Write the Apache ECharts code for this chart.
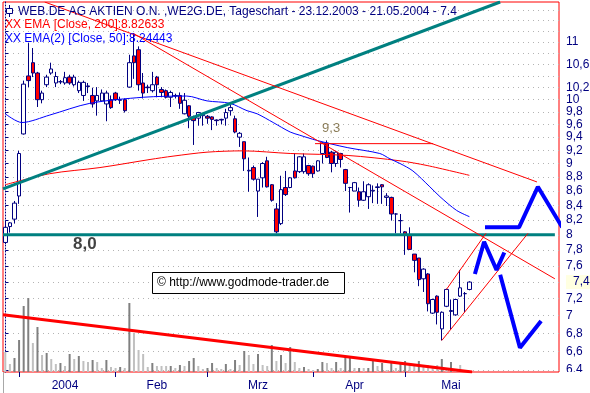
<!DOCTYPE html>
<html><head><meta charset="utf-8">
<script src="https://cdn.jsdelivr.net/npm/echarts@6/dist/echarts.min.js"></script>
<style>html,body{margin:0;padding:0;background:#fff}#c{width:590px;height:393px}</style>
</head><body><div id="c"></div>
<script>
// ---------- data ----------
const decDays = [23,29,30];
const janDays = [2,5,6,7,8,9,12,13,14,15,16,19,20,21,22,23,26,27,28,29,30];
const febDays = [2,3,4,5,6,9,10,11,12,13,16,17,18,19,20,23,24,25,26,27];
const marDays = [1,2,3,4,5,8,9,10,11,12,15,16,17,18,19,22,23,24,25,26,29,30,31];
const aprDays = [1,2,5,6,7,8,13,14,15,16,19,20,21,22,23,26,27,28,29,30];
const mayDays = [3,4,5,6,7,10,11,12,13,14,17,18,19,20,21];
const padDays = 19;
const monthNames = ['2004','Feb','Mrz','Apr','Mai'];
const monthLabelIdx = [13,33,55,76,97];
const monthStartIdx = [3,24,44,67,87];

const priceTicks = [6.4,6.6,6.8,7,7.2,7.4,7.6,7.8,8,8.2,8.4,8.6,8.8,9,9.2,9.4,9.6,9.8,10,10.2,10.4,10.6,10.8,11,11.2,11.4,11.6];
const priceLabels = [11,10.6,10.2,10,9.8,9.6,9.4,9.2,9,8.8,8.6,8.4,8.2,8,7.8,7.6,7.4,7.2,7,6.8,6.6,6.4];

// [open, high, low, close]
const ohlc = [
[7.90,8.19,7.88,8.10],[8.11,8.17,8.03,8.16],[8.21,8.46,8.15,8.43],[8.53,9.19,8.42,9.15],[9.45,10.32,9.44,10.26],
[10.40,10.98,10.21,10.32],[10.63,10.89,10.38,10.45],[10.45,10.47,9.88,10.00],[10.00,10.15,9.94,10.11],[10.25,10.42,10.21,10.38],
[10.45,10.63,10.42,10.52],[10.28,10.47,10.21,10.39],[10.30,10.33,10.26,10.30],[10.28,10.47,10.25,10.37],[10.38,10.42,10.25,10.28],
[10.25,10.42,10.22,10.38],[10.15,10.32,10.11,10.29],[10.07,10.32,9.98,10.29],[10.23,10.28,10.11,10.22],[10.07,10.20,9.87,9.93],
[9.98,10.21,9.74,10.07],[9.98,10.17,9.97,10.11],[9.93,10.15,9.65,10.11],[10.00,10.07,9.85,9.87],[10.11,10.13,9.98,10.00],
[9.99,10.05,9.93,10.00],[10.00,10.02,9.79,9.82],[10.21,10.77,10.20,10.63],[10.75,11.16,10.35,10.63],[10.86,10.92,10.15,10.25],
[10.28,10.45,10.02,10.11],[10.21,10.25,10.11,10.20],[10.15,10.47,10.12,10.25],[10.38,10.40,10.04,10.25],[10.17,10.21,10.04,10.12],
[10.15,10.17,10.02,10.04],[10.04,10.15,9.88,10.12],[10.06,10.10,10.02,10.07],[10.07,10.12,9.85,9.94],[9.77,10.11,9.76,9.99],
[9.90,9.91,9.54,9.73],[9.72,9.74,9.28,9.66],[9.70,9.80,9.58,9.79],[9.74,9.78,9.58,9.77],[9.73,9.75,9.61,9.70],
[9.72,9.73,9.51,9.68],[9.67,9.68,9.58,9.66],[9.68,9.69,9.60,9.67],[9.70,9.85,9.58,9.79],[9.82,9.92,9.74,9.87],
[9.69,9.74,9.46,9.48],[9.40,9.48,9.25,9.46],[9.33,9.33,8.89,9.07],[8.89,9.09,8.59,8.90],[8.94,8.97,8.75,8.77],
[8.60,8.77,8.24,8.77],[8.79,9.02,8.65,9.00],[9.04,9.10,8.65,8.66],[8.69,8.70,8.45,8.47],[8.35,8.43,8.02,8.04],
[8.15,8.82,8.13,8.62],[8.65,8.89,8.53,8.55],[8.65,8.80,8.64,8.79],[8.89,9.15,8.78,8.79],[8.88,9.11,8.86,9.10],
[8.88,9.15,8.85,9.10],[8.97,8.98,8.82,8.85],[8.96,8.97,8.79,8.85],[8.89,9.05,8.88,9.04],[9.15,9.32,9.00,9.31],
[9.31,9.35,9.08,9.09],[9.17,9.19,8.87,9.00],[9.00,9.19,8.95,9.17],[9.15,9.16,8.94,9.06],[8.91,8.92,8.60,8.71],
[8.65,8.66,8.30,8.65],[8.60,8.73,8.60,8.72],[8.59,8.65,8.38,8.47],[8.47,8.74,8.46,8.59],[8.52,8.71,8.35,8.69],
[8.60,8.68,8.43,8.61],[8.65,8.71,8.42,8.66],[8.69,8.70,8.42,8.66],[8.51,8.57,8.39,8.53],[8.51,8.52,8.19,8.28],
[8.28,8.29,8.02,8.28],[8.19,8.28,8.02,8.19],[8.04,8.05,7.74,8.00],[8.00,8.10,7.81,7.81],[7.75,7.75,7.52,7.67],
[7.70,7.70,7.35,7.43],[7.44,7.57,7.28,7.56],[7.50,7.51,7.05,7.14],[7.03,7.20,7.02,7.19],[7.23,7.24,6.90,7.04],
[6.85,7.05,6.72,7.04],[7.11,7.32,7.10,7.31],[7.05,7.19,6.84,7.06],[7.01,7.20,7.00,7.19],[7.23,7.55,7.22,7.33],
[7.26,7.28,7.04,7.26],[7.31,7.41,7.30,7.40]
];

// volume (thousand shares) and shade flag (1 = dark, 0 = light)
const volume = [200,80,140,320,660,740,290,450,170,190,130,80,90,60,180,130,160,110,100,120,
100,40,120,50,40,50,40,690,390,220,180,50,90,60,60,60,60,40,70,60,
110,140,60,30,40,90,40,30,80,30,120,70,210,170,80,180,70,60,270,110,
170,90,250,100,40,50,30,20,30,100,90,40,100,40,150,150,40,40,40,40,
120,60,90,20,90,40,80,110,90,60,110,60,70,60,70,130,40,100,20,70,20,10];
const volShade = [0,0,1,1,1,1,0,1,0,1,0,0,1,0,1,0,1,0,0,1,
0,0,1,0,0,1,0,1,0,0,0,0,1,0,0,0,1,0,1,0,
1,1,0,0,1,1,0,0,1,0,1,0,1,0,0,1,0,0,1,0,
1,0,1,0,0,1,0,0,1,1,0,0,1,0,1,1,0,1,0,1,
1,0,1,0,1,0,1,1,0,0,1,0,0,0,0,1,0,1,0,0,0,0];

// moving averages: [x index, price]
const ema200 = [[0,8.69],[9.7,8.85],[20.6,8.94],[31.5,9.06],[36.5,9.11],[43.9,9.17],[51.7,9.19],[62,9.15],[74.6,9.12],[85.9,9.04],[91.8,8.97],[101,8.826]];
const ema50 = [[0,9.77],[3.6,9.63],[9.7,9.75],[18.4,9.94],[30,10.04],[39.5,10.06],[43.9,9.98],[48.9,9.94],[52.6,9.82],[54.8,9.77],[58.3,9.63],[62,9.48],[64.1,9.43],[67.8,9.35],[74.4,9.24],[81.5,9.15],[83.7,9.07],[85.9,9.00],[88.7,8.89],[92.4,8.66],[94.6,8.52],[98.2,8.33],[101,8.244]];

// drawn trendlines / annotations: [x index, price]
const tealUp = [[-0.5,8.63],[107.7,11.75]];
const tealFlat = [[-0.5,8.0],[119.6,8.0]];
const redUpper = [[8.57,11.75],[115.7,8.73]];
const redSteep = [[27.8,11.16],[119.6,7.44]];
const redFlat93 = [[67.4,9.3],[93.1,9.3]];
const chanA = [[96,7.31],[104.6,8.02]];
const chanB = [[95,6.72],[113.75,8.02]];
const zigTop = [[104.4,8.10],[111.8,8.10],[115.9,8.66],[121.2,8.10]];
const zigLow1 = [[102.2,7.50],[104.2,7.91],[106.9,7.55],[108.6,7.77]];
const zigLow2 = [[107.7,7.49],[112.0,6.64],[116.6,6.94]];
const volTrend = [[-0.5,573],[101.6,0]];
const label80 = [17.3,7.87];
const label93 = [70.9,9.54];

// ---------- build ----------
const cats = [];
function addMonth(days, m, y){ days.forEach(d => cats.push(String(d).padStart(2,'0')+'.'+m+'.'+y)); }
addMonth(decDays,'12','2003'); addMonth(janDays,'01','2004'); addMonth(febDays,'02','2004');
addMonth(marDays,'03','2004'); addMonth(aprDays,'04','2004'); addMonth(mayDays,'05','2004');
for (let i = 0; i < padDays; i++) cats.push('p' + i);
const N = cats.length;

const L = Math.log;
const navy = '#000080';
const FONT = 'Liberation Sans, Arial, sans-serif';
const fmt = v => String(Math.round(Math.exp(v) * 10) / 10).replace('.', ',');
const lp = pts => pts.map(p => [p[0], L(p[1])]);

function line(pts, color, width, extra) {
  return Object.assign({
    type: 'line', xAxisIndex: 1, yAxisIndex: 0, data: lp(pts), symbol: 'none', silent: true,
    lineStyle: { color: color, width: width }, z: 5, animation: false
  }, extra || {});
}

const chart = echarts.init(document.getElementById('c'));
chart.setOption({
  animation: false,
  backgroundColor: '#ffffff',
  grid: { left: 3, top: 2, right: 31, bottom: 21, outerBoundsMode: 'none', containLabel: false,
    show: true, borderColor: '#ff0000', borderWidth: 1, backgroundColor: 'transparent' },
  xAxis: [
    { type: 'category', data: cats, boundaryGap: true,
      axisLine: { show: false },
      axisTick: { show: true, alignWithLabel: true, length: 5, interval: (i) => monthStartIdx.indexOf(i) >= 0, lineStyle: { color: navy } },
      axisLabel: { interval: (i) => monthLabelIdx.indexOf(i) >= 0, formatter: (v, i) => monthNames[monthLabelIdx.indexOf(i)] || '',
        color: navy, fontSize: 12, fontFamily: FONT, margin: 8 },
      splitLine: { show: false } },
    { type: 'value', min: -0.5, max: N - 0.5, show: false }
  ],
  yAxis: [
    { type: 'value', position: 'right', offset: 3, min: L(6.379), max: L(11.75),
      axisLine: { show: true, lineStyle: { color: navy, type: [1, 2] } },
      axisTick: { show: true, length: 3, customValues: priceTicks.map(L), lineStyle: { color: navy } },
      axisLabel: { customValues: priceLabels.map(L), color: navy, fontSize: 12, fontFamily: FONT, margin: 4,
        formatter: v => { const s = fmt(v); return Math.abs(Math.exp(v) - 7.4) < 0.01 ? '{hl|' + s + '}' : s; },
        rich: { hl: { backgroundColor: '#ffffe1', color: navy, fontSize: 12, fontFamily: FONT, padding: [1, 8, 1, 7] } } },
      splitLine: { show: true, lineStyle: { color: '#b4b4b4', type: [1, 4], width: 1 } } },
    { type: 'value', min: 0, max: 3700, show: false, splitLine: { show: false } }
  ],
  series: [
    { type: 'bar', xAxisIndex: 0, yAxisIndex: 1, barWidth: 2, silent: true, z: 1,
      data: volume.map((v, i) => ({ value: v, itemStyle: { color: volShade[i] ? '#808080' : '#c0c0c0' } })) },
    { type: 'line', xAxisIndex: 1, yAxisIndex: 1, data: volTrend, symbol: 'none', silent: true,
      lineStyle: { color: '#ff0000', width: 3 }, z: 2 },
    { type: 'candlestick', xAxisIndex: 0, yAxisIndex: 0, barWidth: 4, silent: true, z: 3,
      itemStyle: { color: '#ffffff', color0: '#ff0000', borderColor: navy, borderColor0: navy, borderWidth: 1 },
      data: ohlc.map(r => [L(r[0]), L(r[3]), L(r[2]), L(r[1])]) },
    line(ema200, '#ff0000', 1, { smooth: 0.3 }),
    line(ema50, '#0000ff', 1, { smooth: 0.3 }),
    line(tealUp, '#008080', 3),
    line(tealFlat, '#008080', 3),
    line(redUpper, '#ff0000', 1),
    line(redSteep, '#ff0000', 1),
    line(redFlat93, '#ff0000', 1),
    line(chanA, '#ff0000', 1),
    line(chanB, '#ff0000', 1),
    line(zigTop, '#0000ff', 4, { clip: false }),
    line(zigLow1, '#0000ff', 4, { clip: false }),
    line(zigLow2, '#0000ff', 4, { clip: false }),
    { type: 'scatter', xAxisIndex: 1, yAxisIndex: 0, symbolSize: 0, silent: true, z: 6,
      data: [
        { value: [label80[0], L(label80[1])], label: { show: true, formatter: '8,0', position: 'inside', color: '#111111', fontSize: 17, fontWeight: 'bold', fontFamily: FONT } },
        { value: [label93[0], L(label93[1])], label: { show: true, formatter: '9,3', position: 'inside', color: '#6e5c30', fontSize: 13, fontFamily: FONT } }
      ] }
  ],
  graphic: [
    { type: 'line', shape: { x1: 9.5, y1: 5, x2: 9.5, y2: 17 }, style: { stroke: navy, lineWidth: 1 }, z: 10 },
    { type: 'rect', shape: { x: 6.5, y: 8.5, width: 6, height: 5 }, style: { fill: '#ffffff', stroke: navy, lineWidth: 1 }, z: 11 },
    { type: 'text', x: 18, y: 11.5, style: { text: 'WEB.DE AG AKTIEN O.N. ,WE2G.DE, Tageschart - 23.12.2003 - 21.05.2004 - 7.4', fill: navy, font: '12px ' + FONT, verticalAlign: 'middle' }, z: 10 },
    { type: 'text', x: 5, y: 25, style: { text: 'XX EMA [Close, 200]:8.82633', fill: '#ff0000', font: '12px ' + FONT, verticalAlign: 'middle' }, z: 10 },
    { type: 'text', x: 5, y: 38.5, style: { text: 'XX EMA(2) [Close, 50]:8.24443', fill: '#0000ff', font: '12px ' + FONT, verticalAlign: 'middle' }, z: 10 },
    { type: 'rect', shape: { x: 152.5, y: 272.5, width: 192, height: 21 }, style: { fill: '#ffffff', stroke: '#000000', lineWidth: 1 }, z: 10 },
    { type: 'text', x: 157, y: 283, style: { text: '\u00a9 http://www.godmode-trader.de', fill: '#000000', font: '12px ' + FONT, verticalAlign: 'middle' }, z: 11 },
    { type: 'rect', shape: { x: 560, y: 372, width: 30, height: 21 }, style: { fill: '#ffffff' }, z: 20 },
    { type: 'line', shape: { x1: 3.5, y1: 372, x2: 3.5, y2: 393 }, style: { stroke: '#a8a8a8', lineWidth: 1 }, z: 10 }
  ]
});
</script>
</body></html>
